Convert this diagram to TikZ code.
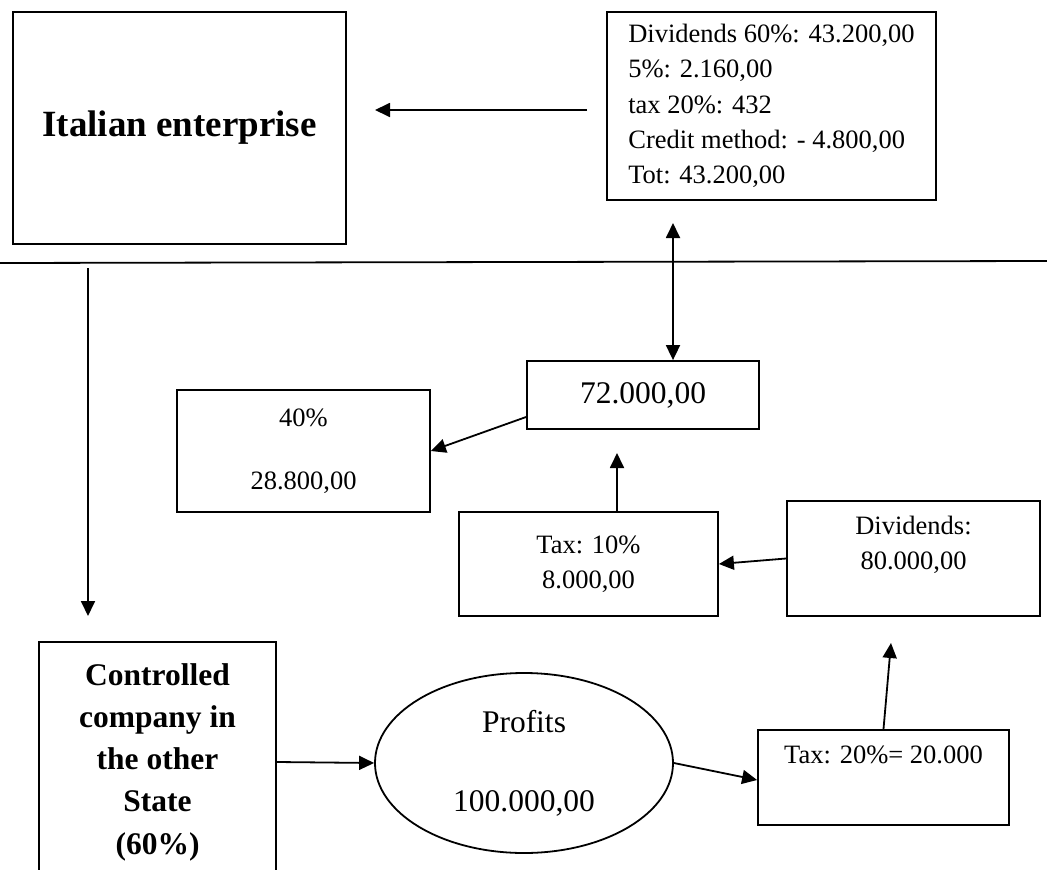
\documentclass[tikz,border=0pt]{standalone}
\usepackage{fontspec}
\setmainfont{Liberation Serif}
\usetikzlibrary{positioning,shapes.geometric,arrows.meta}

\tikzset{
  box/.style={draw, line width=1.8pt, inner sep=0pt, align=center},
  txt/.style={inner sep=0pt, align=center, font=\fontsize{26.5}{35.3}\selectfont},
  big/.style={font=\fontsize{31.5}{39}\selectfont},
  head/.style={font=\bfseries\fontsize{37}{44}\selectfont},
  flow/.style={->, line width=1.8pt},
}

\begin{document}
\begin{tikzpicture}[x=1pt, y=-1pt, >={Triangle[length=15pt,width=14pt]}]
\clip (0,0) rectangle (1047,870);
% upper part
\node[box, head, minimum width=333, minimum height=232] (italy) at (179.5,128) {Italian enterprise};
\node[box, txt, align=left, minimum width=329, minimum height=188] (calc) at (771.5,106)
  {Dividends 60\%: 43.200,00\\5\%: 2.160,00\\tax 20\%: 432\\Credit method: - 4.800,00\\Tot: 43.200,00};
\coordinate (a1) at (587,110);
\coordinate (a2) at (375,110);
\draw[flow] (a1) -- (a2);
\draw[line width=1.8pt] (0,263) -- (1047,261);

% lower part
\node[box, big, minimum width=232, minimum height=68] (net) at (643,395) {72.000,00};
\node[box, txt, minimum width=253, minimum height=122] (rest) at (303.5,451) {40\%\\[28pt]28.800,00};
\node[box, txt, minimum width=259, minimum height=104] (tax10) at (588.5,564) {Tax: 10\%\\8.000,00};
\node[box, minimum width=253, minimum height=115] (div) at (913.5,558.5) {};
\node[txt, below=16pt of div.north] (divtxt) {Dividends:\\80.000,00};
\node[box, minimum width=251, minimum height=95] (tax20) at (883.5,777.5) {};
\node[txt, below=17pt of tax20.north] (tax20txt) {Tax: 20\%= 20.000};
\node[box, font=\bfseries\fontsize{31.5}{42.25}\selectfont, minimum width=237, minimum height=240] (ctrl) at (157.5,762)
  {Controlled\\company in\\the other\\State\\(60\%)};
\node[box, ellipse, big, minimum width=298, minimum height=180] (prof) at (524,763) {Profits\\[40pt]100.000,00};

\coordinate (b1) at (673,223);
\draw[flow, <->] (b1) -- (b1 |- net.north);
\draw[flow] ([yshift=-22pt]net.west) -- (rest.east);
\coordinate (b2) at (617,453);
\draw[flow] (b2 |- tax10.north) -- (b2);
\draw[flow] (div.west) -- (tax10.east);
\coordinate (b3) at (891,643);
\draw[flow] (tax20.north) -- (b3);
\draw[flow] (prof.east) -- ([yshift=-2.5pt]tax20.west);
\draw[flow] (ctrl.east) -- (prof.west);
\coordinate (b4) at (88,268);
\coordinate (b5) at (88,616);
\draw[flow] (b4) -- (b5);
\end{tikzpicture}
\end{document}
